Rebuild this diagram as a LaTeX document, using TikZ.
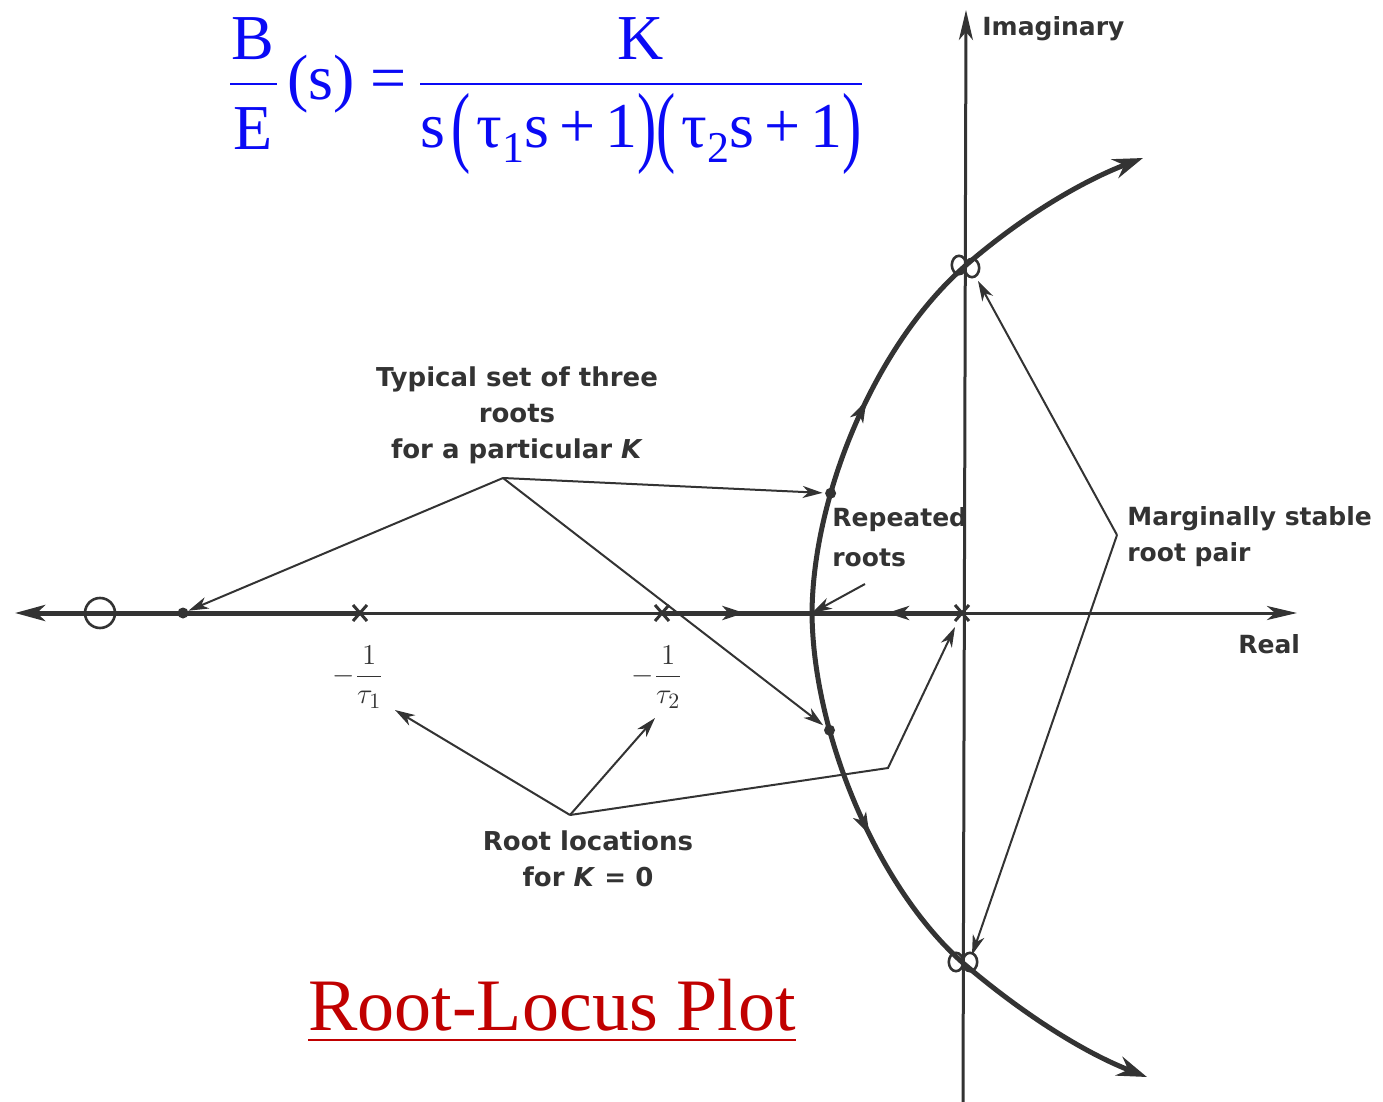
\documentclass[tikz,border=0pt]{standalone}
\usepackage{graphicx}
\usepackage{fontspec}
\setmainfont{Liberation Serif}
\newfontfamily\lblfont{DejaVu Sans}
\usetikzlibrary{arrows.meta,decorations.markings}
\definecolor{inkc}{HTML}{333333}
\definecolor{eqblue}{HTML}{0A0AF5}
\definecolor{ttlred}{HTML}{C00000}
\begin{document}
\begin{tikzpicture}[x=0.5pt,y=-0.5pt,
  locus/.style={draw=inkc,line width=2.5pt},
  axisline/.style={draw=inkc,line width=1.5pt},
  note/.style={draw=inkc,line width=1pt},
  notetip/.style={-{Stealth[length=10pt,width=6pt,inset=3pt]}},
  lbl/.style={font=\lblfont\bfseries\fontsize{12.5}{18}\selectfont,text=inkc,inner sep=0pt},
  eq/.style={font=\fontsize{32}{36}\selectfont,text=eqblue,inner sep=0pt},
  eqbar/.style={draw=eqblue,line width=1.4pt},
  dotm/.style={circle,fill=inkc,inner sep=0pt,minimum size=5.5pt},
  ringm/.style={draw=inkc,line width=1.3pt},
  midarrow/.style={postaction={decorate},decoration={markings,mark=at position #1 with {\arrow{Stealth[length=11pt,width=7pt,inset=3pt]}}}},
  xcross/.pic={\draw[inkc,line width=1.5pt] (-7,-8) -- (7,8) (-7,8) -- (7,-8);}
]
\useasboundingbox (0,0) rectangle (1383,1102);

% ---------- axes ----------
\coordinate (O) at (962,613);
\coordinate (realL) at (15,613);
\coordinate (realR) at (1297,613);
\coordinate (imT) at (966,10);
\coordinate (imB) at (963,1102);
\coordinate (brk) at (812,613);
\coordinate (X1) at (360,613);
\coordinate (X2) at (662,613);

\draw[axisline] (X1) -- (O);
\draw[axisline,-{Stealth[length=15pt,width=7pt,inset=4pt]}] (O) -- (realR);
\draw[axisline,-{Stealth[length=15pt,width=7pt,inset=4pt]}] (imB) -- (imT);

% ---------- locus on real axis ----------
\draw[locus,-{Stealth[length=15pt,width=8pt,inset=4pt]}] (X1) -- (realL);
\draw[locus,midarrow=0.55] (X2) -- (brk);
\draw[locus,midarrow=0.5] (O) -- (brk);

% ---------- complex branches ----------
\draw[locus,-{Stealth[length=15pt,width=10pt,inset=5pt]},midarrow=0.37]
  (brk) .. controls (813,495) and (875,345) .. (965,266) node[dotm,pos=0.32] (dU) {}
        .. controls (1025,214) and (1085,180) .. (1143,158);
\draw[locus,-{Stealth[length=15pt,width=10pt,inset=5pt]},midarrow=0.38]
  (brk) .. controls (813,735) and (878,888) .. (963,963) node[dotm,pos=0.305] (dD) {}
        .. controls (1030,1020) and (1090,1055) .. (1147,1077);

% ---------- markers ----------
\node[circle,draw=inkc,line width=1.3pt,minimum size=15pt,inner sep=0pt] (zero) at (100,613) {};
\node[dotm] (dL) at (183,613) {};
\pic at (X1) {xcross};
\pic at (X2) {xcross};
\pic at (O) {xcross};
\draw[ringm] (959,265) ellipse [x radius=3.6pt, y radius=4.6pt];
\draw[ringm] (972,268) ellipse [x radius=3.6pt, y radius=4.6pt];
\draw[ringm] (956,962) ellipse [x radius=3.6pt, y radius=4.6pt];
\draw[ringm] (970,962) ellipse [x radius=3.6pt, y radius=4.6pt];
\coordinate (mU) at (978,281);
\coordinate (mD) at (972,955);

% ---------- axis labels ----------
\node[lbl,anchor=base west] (imag) at (982,36) {Imaginary};
\node[lbl,anchor=base west] (real) at (1238,653) {Real};
\node[text=inkc,inner sep=0pt,font=\fontsize{15}{18}\selectfont] (t1) at (358,677) {$\displaystyle -\frac{1}{\tau_1}$};
\node[text=inkc,inner sep=0pt,font=\fontsize{15}{18}\selectfont] (t2) at (657,677) {$\displaystyle -\frac{1}{\tau_2}$};

% ---------- annotations ----------
\node[lbl,align=center,anchor=north,font=\lblfont\bfseries\fontsize{13}{18}\selectfont] (typ) at (517,366) {Typical set of three\\roots\\for a particular \textit{K}};
\coordinate (tApex) at (503,478);
\draw[note,notetip] (tApex) -- (dL);
\draw[note,notetip] (tApex) -- (dU);
\draw[note,notetip] (tApex) -- (dD);

\node[lbl,align=left,anchor=north west,font=\lblfont\bfseries\fontsize{12.5}{20}\selectfont] (rep) at (832,507) {Repeated\\roots};
\coordinate (repS) at (865,584);
\draw[note,notetip] (repS) -- (brk);

\node[lbl,align=left,anchor=north west] (marg) at (1127,506) {Marginally stable\\root pair};
\coordinate (mApex) at (1117,535);
\draw[note,notetip] (mApex) -- (mU);
\draw[note,notetip] (mApex) -- (mD);

\node[lbl,align=center,anchor=north,font=\lblfont\bfseries\fontsize{13}{18}\selectfont] (roots) at (588,830) {Root locations\\for \textit{K} = 0};
\coordinate (rApex) at (570,815);
\coordinate (r1) at (395,710);
\coordinate (r2) at (655,718);
\coordinate (rB) at (888,768);
\coordinate (Otip) at (955,627);
\draw[note,notetip] (rApex) -- (r1);
\draw[note,notetip] (rApex) -- (r2);
\draw[note,notetip] (rApex) -- (rB) -- (Otip);

% ---------- transfer function ----------
\node[eq,anchor=base] (numB) at (253,60) {B};
\draw[eqbar] (230,84) -- (277,84);
\node[eq,anchor=base] (denE) at (253,150) {E};
\node[eq,anchor=base west] (sEq) at (287,100) {(s) =};
\node[eq,anchor=base] (numK) at (641,60) {K};
\draw[eqbar] (420,84) -- (862,84);
\node[eq,anchor=base] (den) at (641,148) {s\kern3pt\raisebox{-0.12em}{\scalebox{0.9}[1.4]{(}}\kern3pt τ\raisebox{-0.22em}{\fontsize{22}{22}\selectfont 1}s\kern5pt+\kern5pt1\raisebox{-0.12em}{\scalebox{0.9}[1.4]{)}}\raisebox{-0.12em}{\scalebox{0.9}[1.4]{(}}\kern3pt τ\raisebox{-0.22em}{\fontsize{22}{22}\selectfont 2}s\kern5pt+\kern5pt1\raisebox{-0.12em}{\scalebox{0.9}[1.4]{)}}};

% ---------- title ----------
\node[inner sep=0pt,anchor=base,font=\fontsize{37}{40}\selectfont,text=ttlred] (title) at (552,1030) {Root-Locus Plot};
\draw[ttlred,line width=1.3pt] ([yshift=-5pt]title.base west) -- ([yshift=-5pt]title.base east);
\end{tikzpicture}
\end{document}
